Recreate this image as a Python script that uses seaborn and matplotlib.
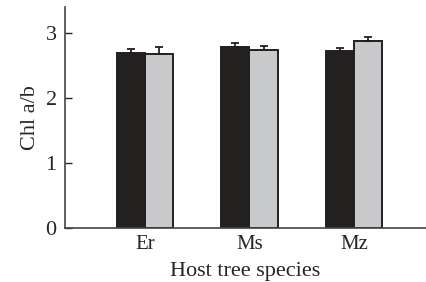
import numpy as np
import pandas as pd
import seaborn as sns
import matplotlib.pyplot as plt

species = ["Er", "Ms", "Mz"]
groups = ["A", "B"]
vals_a = [2.70, 2.79, 2.72]
vals_b = [2.67, 2.74, 2.88]
err_a = [0.055, 0.06, 0.045]
err_b = [0.11, 0.055, 0.065]

df = pd.DataFrame({
    "species": species * 2,
    "group": [groups[0]] * 3 + [groups[1]] * 3,
    "value": vals_a + vals_b,
})
errs = err_a + err_b

sns.set_style("ticks")
plt.rcParams["font.family"] = ["Liberation Serif", "DejaVu Serif"]

fig = plt.figure(figsize=(4.26, 2.82), dpi=100)
ax = fig.add_axes([65 / 426, 54 / 282, 361 / 426, 221 / 282])

sns.barplot(data=df, x="species", y="value", hue="group", order=species,
            hue_order=groups, palette=["#231f20", "#c8c9cb"], width=0.54,
            gap=0, errorbar=None, edgecolor="#231f20", linewidth=1.4,
            legend=False, ax=ax)

bars = [p for p in ax.patches if p.get_height() > 0]
xs = [p.get_x() + p.get_width() / 2 for p in bars]
hs = [p.get_height() for p in bars]
ax.errorbar(xs, hs, yerr=[np.zeros(len(errs)), errs], fmt="none",
            ecolor="#231f20", elinewidth=1.3, capsize=3, capthick=1.3)

ax.set_ylim(0, 3.4)
ax.set_xlim(-0.766, 2.69)
ax.set_yticks([0, 1, 2, 3])
ax.tick_params(axis="y", direction="in", length=5, width=1, labelsize=16, pad=6)
ax.tick_params(axis="x", length=0, labelsize=15, pad=5)
ax.set_xlabel("Host tree species", fontsize=16, labelpad=6)
ax.set_ylabel("Chl a/b", fontsize=16, labelpad=4)
sns.despine(ax=ax)
for s in ["left", "bottom"]:
    ax.spines[s].set_color("#444444")
    ax.spines[s].set_linewidth(1.2)

fig.savefig("out.png", dpi=100)
